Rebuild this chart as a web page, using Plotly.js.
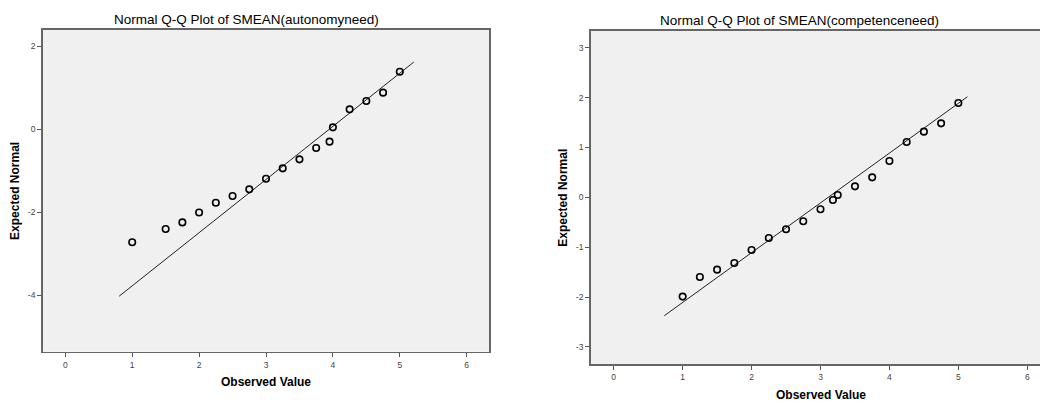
<!DOCTYPE html>
<html><head><meta charset="utf-8">
<script src="https://cdn.plot.ly/plotly-3.0.1.min.js"></script>
<style>html,body{margin:0;padding:0;overflow:hidden;background:#fff;width:1040px;height:401px}#c{width:1060px;height:401px}</style>
</head><body><div id="c"></div>
<script>
// Left: autonomy need
const autoObserved = [1, 1.5, 1.75, 2, 2.25, 2.5, 2.75, 3, 3.25, 3.5, 3.75, 3.95, 4, 4.25, 4.5, 4.75, 5];
const autoExpected = [-2.73, -2.41, -2.25, -2.01, -1.775, -1.614, -1.454, -1.197, -0.948, -0.731, -0.458, -0.305, 0.04, 0.474, 0.675, 0.876, 1.38];
const autoLineX = [0.804, 5.21];
const autoLineY = [-4.03, 1.614];
// Right: competence need
const compObserved = [1, 1.25, 1.5, 1.75, 2, 2.25, 2.5, 2.75, 3, 3.18, 3.25, 3.5, 3.75, 4, 4.25, 4.5, 4.75, 5];
const compExpected = [-1.99, -1.597, -1.45, -1.316, -1.055, -0.815, -0.641, -0.481, -0.24, -0.053, 0.047, 0.22, 0.40, 0.728, 1.109, 1.316, 1.483, 1.89];
const compLineX = [0.734, 5.132];
const compLineY = [-2.373, 2.016];

const xTicks = [0, 1, 2, 3, 4, 5, 6];
const autoYTicks = [-4, -2, 0, 2];
const compYTicks = [-3, -2, -1, 0, 1, 2, 3];
const titles = ["Normal Q-Q Plot of SMEAN(autonomyneed)", "Normal Q-Q Plot of SMEAN(competenceneed)"];
const xTitle = "Observed Value";
const yTitle = "Expected Normal";

const W = 1060, H = 401;
const px = v => v / W, py = v => 1 - v / H;

const marker = {symbol: 'circle-open', size: 6.5, color: '#000', line: {color: '#000', width: 1.6}};
const traces = [
  {x: autoLineX, y: autoLineY, mode: 'lines', line: {color: '#222', width: 1}, xaxis: 'x', yaxis: 'y', hoverinfo: 'skip'},
  {x: autoObserved, y: autoExpected, mode: 'markers', marker: marker, xaxis: 'x', yaxis: 'y'},
  {x: compLineX, y: compLineY, mode: 'lines', line: {color: '#222', width: 1}, xaxis: 'x2', yaxis: 'y2', hoverinfo: 'skip'},
  {x: compObserved, y: compExpected, mode: 'markers', marker: marker, xaxis: 'x2', yaxis: 'y2'}
];
const ax = {
  showgrid: false, zeroline: false, showline: true, mirror: true, linecolor: '#666', linewidth: 1.6,
  ticks: 'outside', ticklen: 4, tickcolor: '#555', tickwidth: 1,
  tickfont: {family: 'Liberation Sans, Arial, sans-serif', size: 8.5, color: '#444'}
};
const fmt = v => String(v); // hyphen minus like the reference
const tfont = {family: 'Liberation Sans, Arial, sans-serif', size: 13.5, color: '#000'};
const afont = {family: 'Liberation Sans, Arial, sans-serif', size: 12, color: '#000', weight: 'bold'};
const layout = {
  width: W, height: H, showlegend: false,
  margin: {l: 0, r: 0, t: 0, b: 0},
  paper_bgcolor: '#fff', plot_bgcolor: '#f0f0f0',
  font: {family: 'Liberation Sans, Arial, sans-serif', color: '#000'},
  xaxis: Object.assign({}, ax, {domain: [px(42.7), px(489.3)], range: [-0.338, 6.338], tickvals: xTicks, ticktext: xTicks.map(fmt), anchor: 'y'}),
  yaxis: Object.assign({}, ax, {domain: [py(351.7), py(30)], range: [-5.366, 2.386], tickvals: autoYTicks, ticktext: autoYTicks.map(fmt), anchor: 'x'}),
  xaxis2: Object.assign({}, ax, {domain: [px(590.7), px(1050.3)], range: [-0.334, 6.334], tickvals: xTicks, ticktext: xTicks.map(fmt), anchor: 'y2'}),
  yaxis2: Object.assign({}, ax, {domain: [py(364.3), py(30.7)], range: [-3.347, 3.34], tickvals: compYTicks, ticktext: compYTicks.map(fmt), anchor: 'x2'}),
  annotations: [
    {text: titles[0], x: px(246.3), y: py(19.5), xref: 'paper', yref: 'paper', showarrow: false, xanchor: 'center', yanchor: 'middle', font: tfont},
    {text: titles[1], x: px(799.5), y: py(21), xref: 'paper', yref: 'paper', showarrow: false, xanchor: 'center', yanchor: 'middle', font: tfont},
    {text: xTitle, x: px(266.3), y: py(382.3), xref: 'paper', yref: 'paper', showarrow: false, xanchor: 'center', yanchor: 'middle', font: afont},
    {text: xTitle, x: px(820.8), y: py(394.5), xref: 'paper', yref: 'paper', showarrow: false, xanchor: 'center', yanchor: 'middle', font: afont},
    {text: yTitle, x: px(15), y: py(190.9), xref: 'paper', yref: 'paper', showarrow: false, textangle: -90, xanchor: 'center', yanchor: 'middle', font: afont},
    {text: yTitle, x: px(562.3), y: py(197.5), xref: 'paper', yref: 'paper', showarrow: false, textangle: -90, xanchor: 'center', yanchor: 'middle', font: afont}
  ]
};
Plotly.newPlot('c', traces, layout, {displayModeBar: false, staticPlot: true});
</script>
</body></html>
